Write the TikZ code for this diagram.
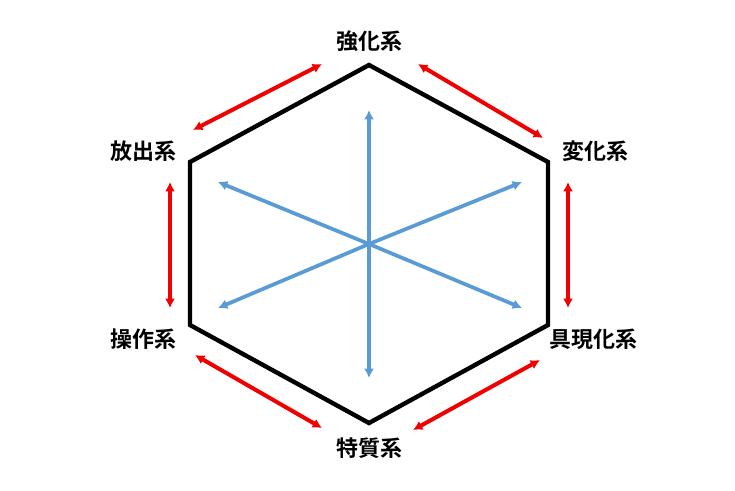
\documentclass[tikz,border=0pt]{standalone}
\usepackage{fontspec}
\newfontfamily\cjk{Noto Sans CJK JP}[BoldFont={Noto Sans CJK JP Bold}]
\usetikzlibrary{arrows.meta}
\definecolor{hexred}{RGB}{240,0,0}
\definecolor{hexblue}{RGB}{91,155,213}
\tikzset{
  lbl/.style={font=\cjk\bfseries\fontsize{16.5}{19}\selectfont},
  redarr/.style={draw=hexred,line width=3pt,{Latex[length=7pt,width=7.5pt]}-{Latex[length=7pt,width=7.5pt]}},
  bluearr/.style={draw=hexblue,line width=2.8pt,-{Latex[length=7pt,width=7.5pt]}},
}
\begin{document}
\begin{tikzpicture}[x=0.75pt,y=-0.75pt]
\useasboundingbox (0,0) rectangle (735,490);
\coordinate (t) at (369,65); \coordinate (ur) at (548,162); \coordinate (lr) at (548,325);
\coordinate (b) at (369,423); \coordinate (ll) at (190,325); \coordinate (ul) at (190,162);
\draw[line width=3.3pt,line join=miter] (t)--(ur)--(lr)--(b)--(ll)--(ul)--cycle;
\coordinate (c) at (369,244);
\foreach \n/\p in {a/{369,110},b2/{369,378},cc/{218,182},d/{522,182},e/{218,308},f/{522,308}}{
  \coordinate (\n) at (\p);
  \draw[bluearr] (c)--(\n);
}
\coordinate (r1a) at (193,130); \coordinate (r1b) at (322,64);
\coordinate (r2a) at (418,64); \coordinate (r2b) at (543,138);
\coordinate (r3a) at (568,182); \coordinate (r3b) at (568,308);
\coordinate (r4a) at (540,360); \coordinate (r4b) at (413,430);
\coordinate (r5a) at (195,355); \coordinate (r5b) at (322,428);
\coordinate (r6a) at (170,182); \coordinate (r6b) at (170,308);
\draw[redarr] (r1a)--(r1b); \draw[redarr] (r2a)--(r2b); \draw[redarr] (r3a)--(r3b);
\draw[redarr] (r4a)--(r4b); \draw[redarr] (r5a)--(r5b); \draw[redarr] (r6a)--(r6b);
\node[lbl] (n1) at (369,41) {強化系};
\node[lbl] (n2) at (595,151) {変化系};
\node[lbl] (n3) at (593,339) {具現化系};
\node[lbl] (n4) at (369,448) {特質系};
\node[lbl] (n5) at (143,339) {操作系};
\node[lbl] (n6) at (143,151) {放出系};
\end{tikzpicture}
\end{document}
